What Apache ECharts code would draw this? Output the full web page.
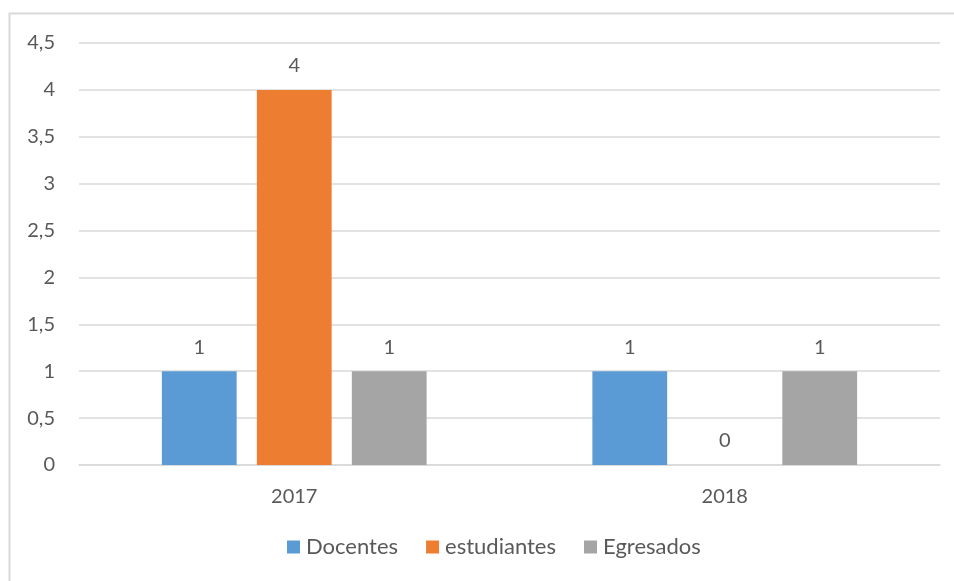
<!DOCTYPE html>
<html>
<head>
<meta charset="utf-8">
<script src="https://cdn.jsdelivr.net/npm/echarts@6/dist/echarts.min.js"></script>
<style>
  html, body { margin: 0; padding: 0; background: #fff; }
  #chart { width: 954px; height: 581px; }
</style>
</head>
<body>
<div id="chart"></div>
<script>
// Participation per year by group
const years = ['2017', '2018'];
const docentes = [1, 1];
const estudiantes = [4, 0];
const egresados = [1, 1];
const yTicks = [0, 0.5, 1, 1.5, 2, 2.5, 3, 3.5, 4, 4.5];

const FONT = 'Lato, "Open Sans", sans-serif';
const TEXT = '#595959';
const FS = 20;

function fmt(v) { return String(v).replace('.', ','); }

function barSeries(name, data, color) {
  return {
    name: name,
    type: 'bar',
    data: data,
    barGap: '27%',
    barCategoryGap: '38.5%',
    itemStyle: { color: color },
    label: {
      show: true,
      position: 'top',
      distance: 14,
      color: TEXT,
      fontFamily: FONT,
      fontSize: FS,
      formatter: p => fmt(p.value)
    }
  };
}

const chart = echarts.init(document.getElementById('chart'));
chart.setOption({
  animation: false,
  graphic: [{
    type: 'rect',
    shape: { x: 9.5, y: 13.5, width: 960, height: 600 },
    style: { fill: 'none', stroke: '#d9d9d9', lineWidth: 2 },
    z: -1
  }],
  grid: { left: 79, right: 14, top: 43, bottom: 116 },
  legend: {
    bottom: 18,
    left: 282,
    itemWidth: 13,
    itemHeight: 13,
    itemGap: 28,
    icon: 'rect',
    textStyle: { color: TEXT, fontFamily: FONT, fontSize: 22, padding: [0, 0, 0, 1] }
  },
  xAxis: {
    type: 'category',
    data: years,
    axisLine: { lineStyle: { color: '#d9d9d9', width: 1.5 } },
    axisTick: { show: false },
    axisLabel: { color: TEXT, fontFamily: FONT, fontSize: FS, margin: 22 }
  },
  yAxis: {
    type: 'value',
    min: yTicks[0],
    max: yTicks[yTicks.length - 1],
    interval: 0.5,
    axisLine: { show: false },
    axisTick: { show: false },
    splitLine: { lineStyle: { color: '#d9d9d9', width: 1.5 } },
    axisLabel: { color: TEXT, fontFamily: FONT, fontSize: FS, margin: 24, formatter: v => fmt(v) }
  },
  series: [
    barSeries('Docentes', docentes, '#5B9BD5'),
    barSeries('estudiantes', estudiantes, '#ED7D31'),
    barSeries('Egresados', egresados, '#A5A5A5')
  ]
});
</script>
</body>
</html>
